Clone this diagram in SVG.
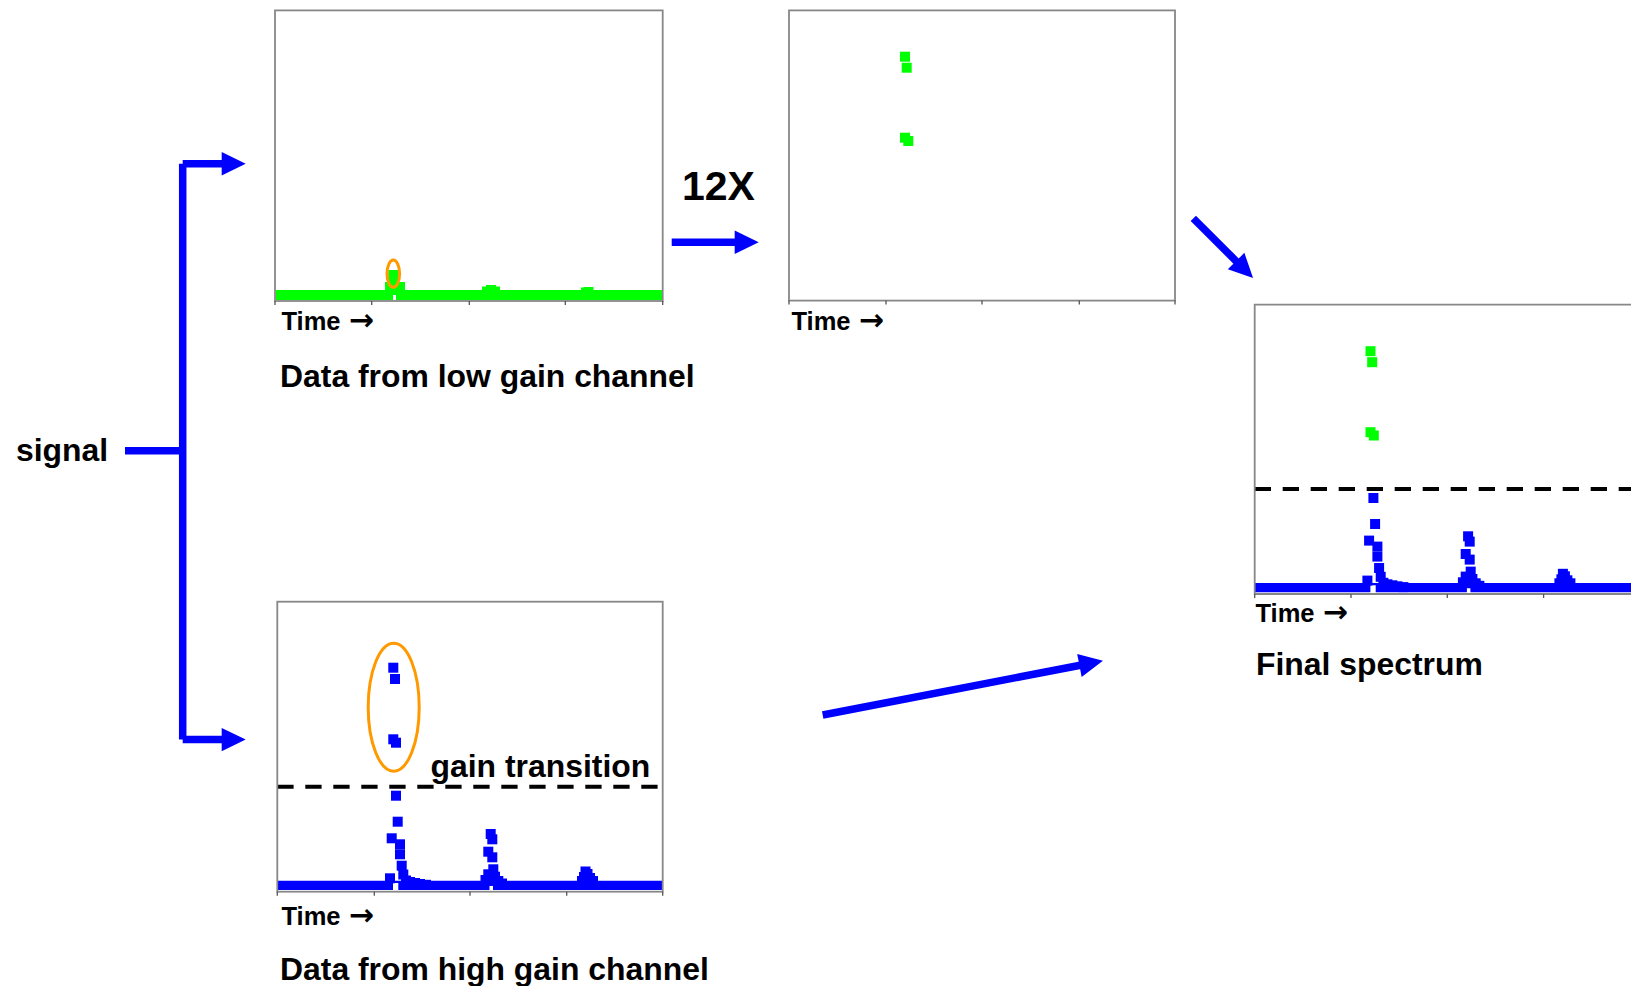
<svg xmlns="http://www.w3.org/2000/svg" xmlns:xlink="http://www.w3.org/1999/xlink" width="1631" height="986" viewBox="0 0 1631 986">
  <style>
    .frame{fill:none;stroke:#878787;stroke-width:1.8}
    .tick{fill:none;stroke:#555;stroke-width:1.3}
    .g{fill:#00ff00}
    .b{fill:#0000ff}
    .thr{fill:none;stroke:#000;stroke-width:4;stroke-dasharray:16.3 11.7}
    .ring{fill:none;stroke:#ff9900;stroke-width:3}
    .lbl{font-family:"Liberation Sans",Arial,Helvetica,sans-serif;font-weight:bold;fill:#000}
    .big{font-size:31.9px}
    .axis{font-size:25.5px}
    .arr{font-family:"DejaVu Sans",sans-serif;font-weight:bold;font-size:30px}
    .mult{font-size:41px}
    .conn line{stroke:#0000ff;stroke-width:7.5;fill:none}
  </style>
  <defs>
    <marker id="head" markerUnits="userSpaceOnUse" markerWidth="26" markerHeight="24" refX="1" refY="11.7" orient="auto" overflow="visible">
      <path d="M0,0 L24,11.7 L0,23.4 Z" fill="#0000ff"/>
    </marker>
    <!-- low gain samples scaled by 12 (drawn in the 12X panel's coordinates) -->
    <g id="lg-peak" class="g">
      <rect x="900" y="51.7" width="10" height="10"/>
      <rect x="901.7" y="62.7" width="10" height="10"/>
      <rect x="900" y="132.7" width="10" height="10"/>
      <rect x="903.3" y="136" width="10" height="10"/>
    </g>
    <!-- high gain trace below the gain transition (drawn in the high gain panel's coordinates) -->
    <g id="hg-trace" class="b">
      <path d="M277.3,880.7 H662.7 V890 H493 V886 H489.5 V890 H398.3 V883 H393 V890 H277.3 Z"/>
      <!-- peak 1 -->
      <rect x="391" y="790.7" width="10" height="10"/>
      <rect x="392.7" y="816.7" width="10" height="10"/>
      <rect x="386.7" y="833.3" width="10" height="10"/>
      <rect x="395" y="839.3" width="10" height="10"/>
      <rect x="395" y="849.3" width="10" height="10"/>
      <rect x="396.7" y="860.7" width="10" height="10"/>
      <rect x="398.3" y="869.5" width="10" height="10"/>
      <rect x="385" y="873.3" width="10" height="10"/>
      <rect x="401" y="875.5" width="10" height="10"/>
      <rect x="405" y="877" width="10" height="10"/>
      <rect x="410" y="878" width="10" height="10"/>
      <rect x="415" y="879" width="10" height="10"/>
      <rect x="421" y="879.8" width="10" height="10"/>
      <!-- peak 2 -->
      <rect x="485.7" y="829" width="10" height="10"/>
      <rect x="487.3" y="834.3" width="10" height="10"/>
      <rect x="483.3" y="846.7" width="10" height="10"/>
      <rect x="487.3" y="852.3" width="10" height="10"/>
      <rect x="488.3" y="864.3" width="10" height="10"/>
      <rect x="483.3" y="869.3" width="10" height="10"/>
      <rect x="490" y="871.7" width="10" height="10"/>
      <rect x="493.3" y="876" width="10" height="10"/>
      <rect x="480.5" y="875" width="10" height="10"/>
      <rect x="497" y="878.5" width="10" height="10"/>
      <!-- peak 3 -->
      <rect x="580.5" y="866.5" width="10" height="10"/>
      <rect x="582.5" y="869" width="10" height="10"/>
      <rect x="579" y="872" width="10" height="10"/>
      <rect x="585" y="873" width="10" height="10"/>
      <rect x="577" y="876" width="10" height="10"/>
      <rect x="588" y="876" width="10" height="10"/>
    </g>
  </defs>

  <rect width="1631" height="986" fill="#fff"/>

  <!-- input -->
  <g id="signal">
    <text class="lbl big" x="16" y="461">signal</text>
  </g>

  <!-- low gain channel -->
  <g id="low-gain">
    <g class="g">
      <path d="M276,290 H662 V300 H396 V295 H393 V300 H276 Z"/>
      <rect x="388.3" y="270" width="10" height="10"/>
      <rect x="388.3" y="277" width="10" height="10"/>
      <rect x="385" y="282" width="10" height="10"/>
      <rect x="395" y="282" width="10" height="10"/>
      <rect x="482" y="286.5" width="10" height="10"/>
      <rect x="486" y="285" width="10" height="10"/>
      <rect x="490" y="286.5" width="10" height="10"/>
      <rect x="581" y="287.5" width="10" height="10"/>
      <rect x="583.5" y="287" width="10" height="10"/>
    </g>
    <ellipse class="ring" cx="393.3" cy="273.7" rx="6.3" ry="13.6"/>
    <rect class="frame" x="275" y="10.4" width="387.7" height="290.6"/>
    <path class="tick" d="M275,301v4 M371.7,301v4 M469.3,301v4 M565.3,301v4 M662.7,301v4"/>
    <text class="lbl axis" x="281.5" y="330">Time <tspan class="arr" dx="1">→</tspan></text>
    <text class="lbl big" x="280" y="387">Data from low gain channel</text>
  </g>

  <!-- low gain channel multiplied by 12 -->
  <g id="scaled">
    <use xlink:href="#lg-peak" href="#lg-peak"/>
    <rect class="frame" x="789" y="10.4" width="386" height="290.2"/>
    <path class="tick" d="M789,300.6v4 M886,300.6v4 M982,300.6v4 M1079.3,300.6v4 M1175,300.6v4"/>
    <text class="lbl axis" x="791.5" y="330">Time <tspan class="arr" dx="1">→</tspan></text>
  </g>
  <text class="lbl mult" x="682" y="200">12X</text>

  <!-- high gain channel -->
  <g id="high-gain">
    <use xlink:href="#hg-trace" href="#hg-trace"/>
    <g class="b">
      <rect x="388.3" y="662.7" width="10" height="10"/>
      <rect x="390" y="674" width="10" height="10"/>
      <rect x="388.3" y="734.3" width="10" height="10"/>
      <rect x="391" y="737.7" width="10" height="10"/>
    </g>
    <line class="thr" x1="277.3" y1="786.7" x2="658.3" y2="786.7"/>
    <ellipse class="ring" cx="393.7" cy="707.2" rx="25.5" ry="64"/>
    <text class="lbl big" x="430.5" y="777">gain transition</text>
    <rect class="frame" x="277.3" y="601.7" width="385.4" height="290"/>
    <path class="tick" d="M277.3,891.7v4 M374.3,891.7v4 M470,891.7v4 M566.7,891.7v4 M662.7,891.7v4"/>
    <text class="lbl axis" x="281.5" y="925">Time <tspan class="arr" dx="1">→</tspan></text>
    <text class="lbl big" x="280" y="980">Data from high gain channel</text>
  </g>

  <!-- combined result -->
  <g id="final">
    <use xlink:href="#hg-trace" href="#hg-trace" transform="translate(977.4,-297.7)"/>
    <use xlink:href="#lg-peak" href="#lg-peak" transform="translate(465.5,294.5)"/>
    <line class="thr" x1="1254.7" y1="489" x2="1640" y2="489"/>
    <path class="frame" d="M1640,304.7 H1254.7 V594 H1640"/>
    <path class="tick" d="M1254.7,594v4 M1351,594v4 M1447.3,594v4 M1543.6,594v4"/>
    <text class="lbl axis" x="1255.5" y="621.5">Time <tspan class="arr" dx="1">→</tspan></text>
    <text class="lbl big" x="1256" y="675">Final spectrum</text>
  </g>

  <!-- connectors -->
  <g id="connectors" class="conn">
    <line x1="125" y1="450.7" x2="182.7" y2="450.7"/>
    <line x1="182.7" y1="163.7" x2="182.7" y2="739.6"/>
    <line x1="182.7" y1="163.7" x2="222.7" y2="163.7" marker-end="url(#head)"/>
    <line x1="182.7" y1="739.6" x2="222.7" y2="739.6" marker-end="url(#head)"/>
    <line x1="671.7" y1="242.3" x2="735.7" y2="242.3" marker-end="url(#head)"/>
    <line x1="1193.3" y1="218.3" x2="1236.8" y2="261.8" marker-end="url(#head)"/>
    <line x1="822.7" y1="715" x2="1080.4" y2="665.2" marker-end="url(#head)"/>
  </g>
</svg>
